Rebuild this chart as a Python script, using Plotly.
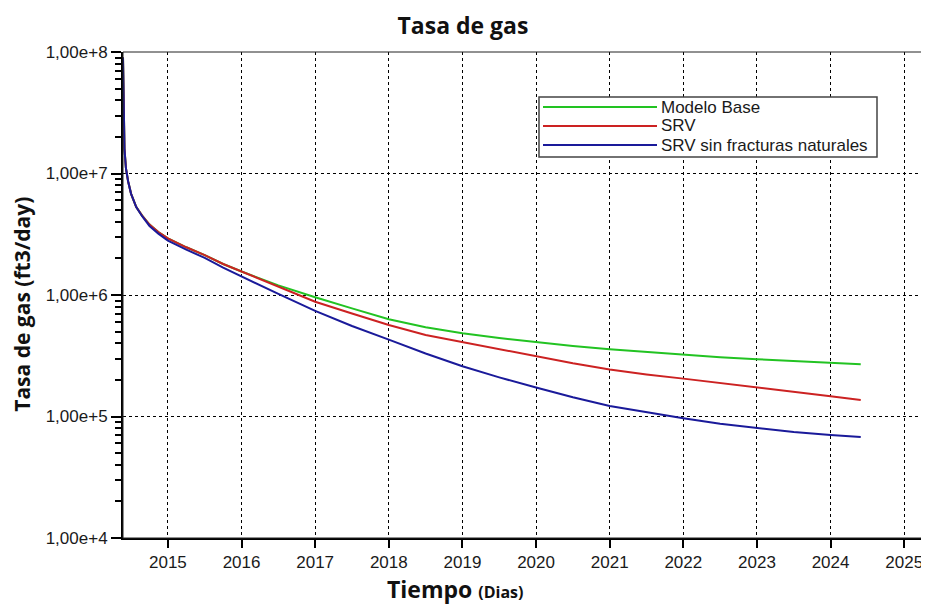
import plotly.graph_objects as go

# ---- data ----
t_years = [2014.39, 2014.40, 2014.41, 2014.43, 2014.46, 2014.50, 2014.57, 2014.65, 2014.75, 2014.87,
           2015.0, 2015.25, 2015.5, 2015.75, 2016.0, 2016.5, 2017.0, 2017.5, 2018.0, 2018.5,
           2019.0, 2019.5, 2020.0, 2020.5, 2021.0, 2021.5, 2022.0, 2022.5, 2023.0, 2023.5,
           2024.0, 2024.41]

modelo_base = [9.0e7, 3.0e7, 1.6e7, 1.1e7, 8.6e6, 6.8e6, 5.3e6, 4.5e6, 3.8e6, 3.3e6,
               2.93e6, 2.47e6, 2.13e6, 1.80e6, 1.56e6, 1.20e6, 9.57e5, 7.76e5, 6.31e5, 5.42e5,
               4.84e5, 4.43e5, 4.10e5, 3.80e5, 3.57e5, 3.38e5, 3.21e5, 3.07e5, 2.96e5, 2.86e5,
               2.79e5, 2.69e5]

srv = [9.0e7, 3.0e7, 1.6e7, 1.1e7, 8.6e6, 6.8e6, 5.3e6, 4.5e6, 3.8e6, 3.3e6,
       2.93e6, 2.47e6, 2.13e6, 1.80e6, 1.56e6, 1.17e6, 8.81e5, 7.05e5, 5.66e5, 4.69e5,
       4.10e5, 3.57e5, 3.10e5, 2.74e5, 2.44e5, 2.22e5, 2.05e5, 1.88e5, 1.73e5, 1.59e5,
       1.47e5, 1.37e5]

srv_sin_fn = [9.0e7, 3.0e7, 1.6e7, 1.1e7, 8.6e6, 6.8e6, 5.3e6, 4.45e6, 3.7e6, 3.2e6,
              2.80e6, 2.36e6, 2.02e6, 1.68e6, 1.42e6, 1.02e6, 7.41e5, 5.56e5, 4.29e5, 3.30e5,
              2.59e5, 2.10e5, 1.73e5, 1.44e5, 1.22e5, 1.08e5, 9.66e4, 8.70e4, 8.00e4, 7.46e4,
              7.05e4, 6.78e4]

series_names = ["Modelo Base", "SRV", "SRV sin fracturas naturales"]
series_colors = ["#22c322", "#cc2222", "#1a1a9a"]

x_tick_years = [2015, 2016, 2017, 2018, 2019, 2020, 2021, 2022, 2023, 2024, 2025]
y_tick_vals = [1e4, 1e5, 1e6, 1e7, 1e8]
y_tick_text = ["1,00e+4", "1,00e+5", "1,00e+6", "1,00e+7", "1,00e+8"]
y_minor_vals = [m * 10 ** k for k in range(4, 8) for m in range(2, 10)]

fig = go.Figure()
for name, vals, col in zip(series_names, [modelo_base, srv, srv_sin_fn], series_colors):
    fig.add_trace(go.Scatter(x=t_years, y=vals, mode="lines", name=name,
                             line=dict(color=col, width=2), showlegend=False))

tick_font = dict(family="Liberation Sans, Arial, sans-serif", size=17, color="#1a1a1a")

# the page body has an 8px margin, so the figure is sized to end at the window edge
FIG_W, FIG_H = 921, 598
fig.update_layout(
    width=FIG_W, height=FIG_H,
    margin=dict(l=115, r=2, t=44, b=68),
    paper_bgcolor="white", plot_bgcolor="white",
    title=dict(text="<b>Tasa de gas</b>", x=0.494, xanchor="center", y=0.970, yanchor="middle",
               yref="container",
               font=dict(family="Open Sans, sans-serif", size=23, color="#111")),
    xaxis=dict(range=[2014.39, 2025.31], tickmode="array", tickvals=x_tick_years,
               ticktext=[str(y) for y in x_tick_years], automargin=False,
               showline=True, linecolor="black", linewidth=2,
               ticks="outside", ticklen=8, tickwidth=2, tickcolor="black",
               showgrid=True, gridcolor="black", gridwidth=1, griddash="3px,3px",
               tickfont=tick_font, zeroline=False),
    yaxis=dict(type="log", range=[4, 8], tickmode="array", tickvals=y_tick_vals, ticktext=y_tick_text,
               automargin=False,
               showline=True, linecolor="black", linewidth=2,
               ticks="outside", ticklen=10, tickwidth=2, tickcolor="black",
               showgrid=True, gridcolor="black", gridwidth=1, griddash="3px,3px",
               tickfont=tick_font, zeroline=False,
               minor=dict(tickmode="array", tickvals=y_minor_vals, ticks="outside", ticklen=6,
                          tickwidth=2, tickcolor="black", showgrid=False)),
)

# frame around plot area (top/right thin)
fig.add_shape(type="rect", xref="paper", yref="paper", x0=0, x1=1, y0=0, y1=1,
              line=dict(color="#222", width=1), layer="above")

# axis titles
fig.add_annotation(xref="paper", yref="paper", x=0.413, y=-0.105, showarrow=False,
                   text="<b>Tiempo</b> <b><span style='font-size:16px'>(Dias)</span></b>",
                   font=dict(family="Open Sans, sans-serif", size=23, color="#111"),
                   xanchor="center", yanchor="middle")
fig.add_annotation(xref="paper", yref="paper", x=-0.1256, y=0.48, showarrow=False,
                   text="<b>Tasa de gas (ft3/day)</b>", textangle=-90,
                   font=dict(family="Open Sans, sans-serif", size=21, color="#111"),
                   xanchor="center", yanchor="middle")

# manual legend (long line samples like the reference)
def px_x(px):
    return (px - 123) / (927 - 123)

def px_y(py):
    return (538 - py) / (538 - 52)

fig.add_shape(type="rect", xref="paper", yref="paper",
              x0=px_x(539), x1=px_x(877), y0=px_y(157), y1=px_y(97),
              line=dict(color="#444", width=1.5), fillcolor="white", layer="above")
for i, (name, col) in enumerate(zip(series_names, series_colors)):
    yy = 107 + 19 * i
    fig.add_shape(type="line", xref="paper", yref="paper",
                  x0=px_x(543), x1=px_x(657), y0=px_y(yy), y1=px_y(yy),
                  line=dict(color=col, width=2), layer="above")
    fig.add_annotation(xref="paper", yref="paper", x=px_x(659), y=px_y(yy), showarrow=False,
                       text=name, xanchor="left", yanchor="middle",
                       font=dict(family="Liberation Sans, Arial, sans-serif", size=17, color="#1a1a1a"))

fig.write_html("out.html")
